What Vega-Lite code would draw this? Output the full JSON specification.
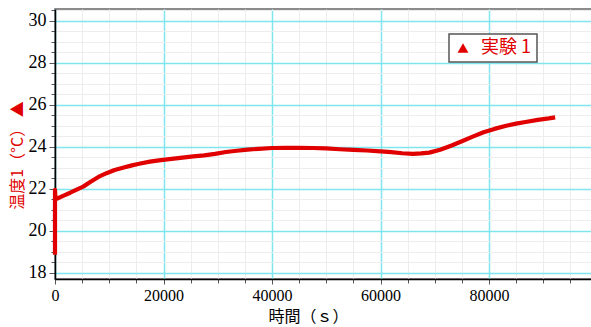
{
  "$schema": "https://vega.github.io/schema/vega-lite/v6.json",
  "width": 537,
  "height": 270,
  "autosize": "none",
  "padding": {"left": 55, "top": 9, "right": 0, "bottom": 48},
  "config": {
    "view": {"stroke": "#666666", "strokeWidth": 1.5},
    "background": "white"
  },
  "data": {
    "values": [
      {"i": 0, "t": 0, "T": 18.85, "series": "実験 1"},
      {"i": 1, "t": 0, "T": 21.95, "series": "実験 1"},
      {"i": 2, "t": 100, "T": 21.5, "series": "実験 1"},
      {"i": 3, "t": 1500, "T": 21.66, "series": "実験 1"},
      {"i": 4, "t": 2800, "T": 21.81, "series": "実験 1"},
      {"i": 5, "t": 4000, "T": 21.96, "series": "実験 1"},
      {"i": 6, "t": 5200, "T": 22.1, "series": "実験 1"},
      {"i": 7, "t": 6500, "T": 22.32, "series": "実験 1"},
      {"i": 8, "t": 8000, "T": 22.56, "series": "実験 1"},
      {"i": 9, "t": 9500, "T": 22.74, "series": "実験 1"},
      {"i": 10, "t": 11000, "T": 22.89, "series": "実験 1"},
      {"i": 11, "t": 12500, "T": 23.0, "series": "実験 1"},
      {"i": 12, "t": 14000, "T": 23.1, "series": "実験 1"},
      {"i": 13, "t": 15500, "T": 23.19, "series": "実験 1"},
      {"i": 14, "t": 17500, "T": 23.29, "series": "実験 1"},
      {"i": 15, "t": 19500, "T": 23.36, "series": "実験 1"},
      {"i": 16, "t": 21500, "T": 23.42, "series": "実験 1"},
      {"i": 17, "t": 23500, "T": 23.48, "series": "実験 1"},
      {"i": 18, "t": 25500, "T": 23.54, "series": "実験 1"},
      {"i": 19, "t": 27500, "T": 23.59, "series": "実験 1"},
      {"i": 20, "t": 29500, "T": 23.66, "series": "実験 1"},
      {"i": 21, "t": 31500, "T": 23.75, "series": "実験 1"},
      {"i": 22, "t": 33500, "T": 23.81, "series": "実験 1"},
      {"i": 23, "t": 35500, "T": 23.86, "series": "実験 1"},
      {"i": 24, "t": 37500, "T": 23.9, "series": "実験 1"},
      {"i": 25, "t": 40000, "T": 23.94, "series": "実験 1"},
      {"i": 26, "t": 42500, "T": 23.95, "series": "実験 1"},
      {"i": 27, "t": 45000, "T": 23.95, "series": "実験 1"},
      {"i": 28, "t": 47500, "T": 23.94, "series": "実験 1"},
      {"i": 29, "t": 50000, "T": 23.92, "series": "実験 1"},
      {"i": 30, "t": 52500, "T": 23.88, "series": "実験 1"},
      {"i": 31, "t": 55000, "T": 23.85, "series": "実験 1"},
      {"i": 32, "t": 57500, "T": 23.82, "series": "実験 1"},
      {"i": 33, "t": 60000, "T": 23.78, "series": "実験 1"},
      {"i": 34, "t": 62000, "T": 23.74, "series": "実験 1"},
      {"i": 35, "t": 64000, "T": 23.69, "series": "実験 1"},
      {"i": 36, "t": 66000, "T": 23.66, "series": "実験 1"},
      {"i": 37, "t": 67500, "T": 23.68, "series": "実験 1"},
      {"i": 38, "t": 69000, "T": 23.72, "series": "実験 1"},
      {"i": 39, "t": 71000, "T": 23.86, "series": "実験 1"},
      {"i": 40, "t": 73000, "T": 24.05, "series": "実験 1"},
      {"i": 41, "t": 75000, "T": 24.26, "series": "実験 1"},
      {"i": 42, "t": 77000, "T": 24.48, "series": "実験 1"},
      {"i": 43, "t": 79000, "T": 24.69, "series": "実験 1"},
      {"i": 44, "t": 81000, "T": 24.85, "series": "実験 1"},
      {"i": 45, "t": 83000, "T": 24.99, "series": "実験 1"},
      {"i": 46, "t": 85000, "T": 25.1, "series": "実験 1"},
      {"i": 47, "t": 87000, "T": 25.19, "series": "実験 1"},
      {"i": 48, "t": 89000, "T": 25.28, "series": "実験 1"},
      {"i": 49, "t": 91000, "T": 25.35, "series": "実験 1"},
      {"i": 50, "t": 92200, "T": 25.4, "series": "実験 1"}
    ]
  },
  "layer": [
    {
      "mark": {"type": "line", "opacity": 0},
      "encoding": {
        "x": {
          "field": "t", "type": "quantitative",
          "scale": {"domain": [0, 98985], "nice": false, "zero": false},
          "axis": {
            "orient": "bottom",
            "values": [0, 5000, 10000, 15000, 20000, 25000, 30000, 35000, 40000, 45000, 50000, 55000, 60000, 65000, 70000, 75000, 80000, 85000, 90000, 95000],
            "grid": true, "gridColor": "#ededed", "gridWidth": 1,
            "ticks": true, "tickSize": 4, "tickColor": "#555555",
            "labels": false, "domain": false, "title": null
          }
        },
        "y": {
          "field": "T", "type": "quantitative",
          "scale": {"domain": [17.7, 30.56], "nice": false, "zero": false},
          "axis": {
            "orient": "left",
            "values": [18, 18.5, 19, 19.5, 20, 20.5, 21, 21.5, 22, 22.5, 23, 23.5, 24, 24.5, 25, 25.5, 26, 26.5, 27, 27.5, 28, 28.5, 29, 29.5, 30, 30.5],
            "grid": true, "gridColor": "#ededed", "gridWidth": 1,
            "ticks": true, "tickSize": 4, "tickColor": "#555555",
            "labels": false, "domain": false, "title": null
          }
        },
        "order": {"field": "i", "type": "quantitative"}
      }
    },
    {
      "mark": {"type": "line", "color": "#e00000", "strokeWidth": 4.2, "strokeJoin": "round", "strokeCap": "butt"},
      "encoding": {
        "x": {
          "field": "t", "type": "quantitative",
          "scale": {"domain": [0, 98985], "nice": false, "zero": false},
          "axis": {
            "orient": "bottom",
            "values": [0, 20000, 40000, 60000, 80000],
            "format": "d",
            "grid": true, "gridColor": "#7fe6f0", "gridWidth": 1.5,
            "ticks": true, "tickSize": 5, "tickColor": "#555555",
            "domain": true, "domainColor": "#000000", "domainWidth": 1.5,
            "labelFont": "Liberation Sans Narrow", "labelFontSize": 16, "labelColor": "#000000", "labelPadding": 3,
            "labelFlush": false,
            "title": "時間（ｓ）",
            "titleFont": "Noto Sans CJK JP", "titleFontSize": 16, "titleFontWeight": "normal", "titleColor": "#000000",
            "titleX": 253, "titleY": 29, "titleAlign": "center", "titleBaseline": "top"
          }
        },
        "y": {
          "field": "T", "type": "quantitative",
          "scale": {"domain": [17.7, 30.56], "nice": false, "zero": false},
          "axis": {
            "orient": "left",
            "values": [18, 20, 22, 24, 26, 28, 30],
            "grid": true, "gridColor": "#7fe6f0", "gridWidth": 1.5,
            "ticks": true, "tickSize": 6, "tickColor": "#555555",
            "domain": true, "domainColor": "#000000", "domainWidth": 1.5,
            "labelFont": "Liberation Sans Narrow", "labelFontSize": 18, "labelColor": "#000000", "labelPadding": 3,
            "labelFlush": false,
            "title": "温度1（°C） ▲",
            "titleFont": "Noto Sans CJK JP", "titleFontSize": 16, "titleFontWeight": "normal", "titleColor": "#e00000",
            "titleX": -38, "titleY": 146, "titleAngle": -90, "titleAlign": "center", "titleBaseline": "middle"
          }
        },
        "color": {
          "field": "series", "type": "nominal",
          "scale": {"range": ["#e00000"]},
          "legend": {
            "orient": "none", "legendX": 394, "legendY": 25,
            "title": null,
            "fillColor": "white", "strokeColor": "#555555", "padding": 5,
            "symbolType": "triangle-up", "symbolSize": 120, "symbolFillColor": "#e00000", "symbolStrokeColor": "#e00000", "symbolStrokeWidth": 0,
            "labelFont": "Noto Sans CJK JP", "labelFontSize": 18, "labelColor": "#e00000", "labelOffset": 9,
            "encode": {
              "symbols": {"update": {"fill": {"value": "#e00000"}, "stroke": {"value": "#e00000"}, "shape": {"value": "triangle-up"}, "strokeWidth": {"value": 0}}},
              "legend": {"update": {"strokeWidth": {"value": 1.5}}}
            }
          }
        },
        "order": {"field": "i", "type": "quantitative"}
      }
    }
  ],
  "resolve": {"axis": {"x": "independent", "y": "independent"}}
}
